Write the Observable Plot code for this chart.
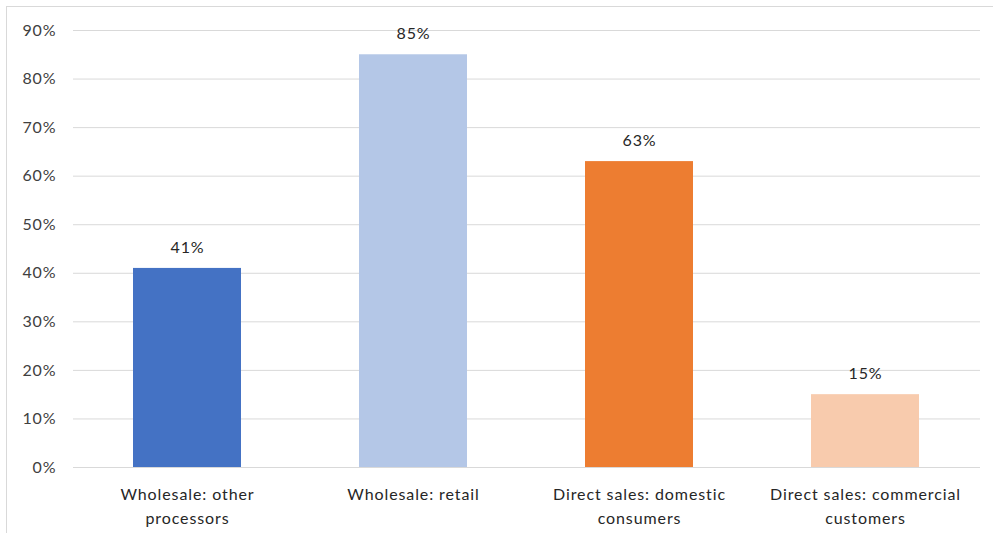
<!DOCTYPE html>
<html>
<head>
<meta charset="utf-8">
<script src="https://cdn.jsdelivr.net/npm/d3@7"></script>
<script src="https://cdn.jsdelivr.net/npm/@observablehq/plot@0.6"></script>
<style>
  html, body { margin: 0; padding: 0; background: #fff; }
  #wrap { position: relative; width: 993px; height: 533px; overflow: hidden; }
  #border { position: absolute; left: 6px; top: 6px; right: 0; bottom: 0; border-top: 1px solid #d9d9d9; border-left: 1px solid #d9d9d9; pointer-events: none; }
  #wrap svg text { letter-spacing: 0.9px; }
</style>
</head>
<body>
<div id="wrap"><div id="border"></div></div>
<script>
// Sales channels and share of respondents using each
const categories = [
  "Wholesale: other processors",
  "Wholesale: retail",
  "Direct sales: domestic consumers",
  "Direct sales: commercial customers"
];
const axisLabels = [
  "Wholesale: other\nprocessors",
  "Wholesale: retail",
  "Direct sales: domestic\nconsumers",
  "Direct sales: commercial\ncustomers"
];
const shares = [0.41, 0.85, 0.63, 0.15];
const barColors = ["#4472c4", "#b4c7e7", "#ed7d31", "#f8cbad"];
const yTicks = [0, 0.1, 0.2, 0.3, 0.4, 0.5, 0.6, 0.7, 0.8, 0.9];

const data = categories.map((c, i) => ({category: c, share: shares[i]}));
const fmt = d3.format(".0%");

const chart = Plot.plot({
  width: 993,
  height: 533,
  marginLeft: 73,
  marginRight: 13,
  marginTop: 30,
  marginBottom: 66,
  style: {fontFamily: "Lato, 'Open Sans', sans-serif", fontSize: "16px", color: "#404040", background: "transparent"},
  x: {domain: categories, paddingInner: 0.52, paddingOuter: 0.26, label: null},
  y: {domain: [0, 0.9], label: null},
  color: {domain: categories, range: barColors},
  marks: [
    Plot.ruleY(yTicks, {stroke: "#d9d9d9", strokeWidth: 1}),
    Plot.axisY({ticks: yTicks, tickFormat: fmt, tickSize: 0, tickPadding: 17, fontSize: 16, fill: "#404040", label: null}),
    Plot.barY(data, {x: "category", y: "share", fill: "category"}),
    Plot.text(data, {x: "category", y: "share", text: d => fmt(d.share), dy: -21, fontSize: 16, fill: "#262626"}),
    Plot.axisX({tickSize: 0, tickPadding: 15, tickFormat: d => axisLabels[categories.indexOf(d)], lineHeight: 1.5, fontSize: 16, fill: "#262626", label: null})
  ]
});
document.getElementById("wrap").prepend(chart);
</script>
</body>
</html>
